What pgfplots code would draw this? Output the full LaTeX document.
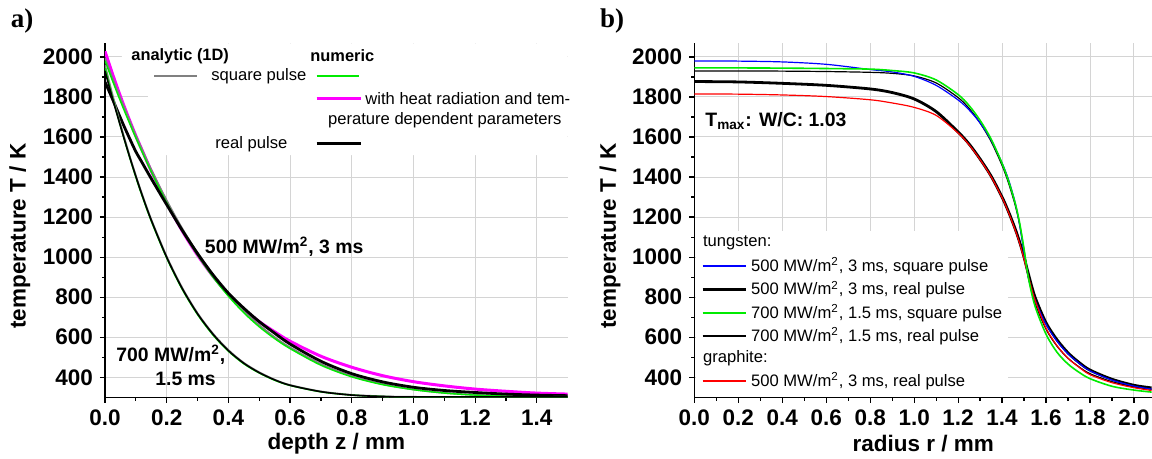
\documentclass[border=0pt]{standalone}
\usepackage{pgfplots}
\usepackage{pgfplotstable}
\pgfplotsset{compat=1.18}
\usepackage{fontspec}
\setmainfont{Liberation Sans}
\newfontfamily\panelfont{Liberation Serif}

\definecolor{cgray}{RGB}{128,128,128}
\definecolor{cgreen}{RGB}{0,235,0}
\definecolor{cmag}{RGB}{255,0,255}
\definecolor{cblue}{RGB}{0,0,255}
\definecolor{cred}{RGB}{255,0,0}
\definecolor{cgrid}{RGB}{212,212,212}

% depth profiles, 500 MW/m2, 3 ms
\pgfplotstableread{
z     ana   num   rad   real
0.00  1995  1980  2028  1875
0.02  1912  1898  1935  1805
0.04  1832  1818  1846  1732
0.06  1755  1741  1762  1660
0.08  1680  1667  1682  1592
0.10  1607  1595  1606  1527
0.12  1538  1526  1535  1473
0.15  1437  1426  1430  1392
0.20  1283  1272  1272  1262
0.25  1144  1132  1132  1135
0.30  1021  1010  1010  1018
0.35   911   900   905   912
0.40   815   805   815   820
0.45   732   722   740   745
0.50   661   652   678   678
0.55   600   593   627   620
0.60   549   543   580   566
0.70   466   460   505   480
0.80   406   402   450   418
0.90   366   363   408   377
1.00   339   338   378   350
1.10   322   321   357   334
1.20   312   311   341   324
1.30   307   306   330   316
1.40   303   303   321   311
1.50   302   302   316   308
}\tabfive

% depth profiles, 700 MW/m2, 1.5 ms
\pgfplotstableread{
z     ana   num   real
0.00  1960  1945  1930
0.02  1836  1824  1816
0.04  1720  1710  1708
0.06  1610  1601  1602
0.08  1505  1497  1500
0.10  1407  1399  1403
0.12  1315  1307  1311
0.15  1188  1180  1184
0.20  1003   995   999
0.25   848   840   844
0.30   720   713   717
0.35   618   611   615
0.40   536   530   533
0.45   472   467   470
0.50   425   421   423
0.55   388   385   387
0.60   361   359   360
0.70   329   327   328
0.80   312   311   311
0.90   305   304   304
1.00   302   302   302
1.50   302   302   302
}\tabseven

% radial profiles at the surface
\pgfplotstableread{
r     wsq5  wre5  wsq7  wre7  cre5
0.00  1980  1877  1945  1930  1815
0.20  1979  1875  1945  1930  1814
0.40  1975  1868  1944  1929  1810
0.60  1963  1858  1942  1927  1802
0.80  1937  1840  1939  1923  1786
0.90  1925  1822  1932  1918  1770
1.00  1903  1790  1920  1905  1748
1.10  1858  1727  1885  1870  1708
1.20  1785  1625  1812  1797  1620
1.25  1735  1565  1757  1743  1561
1.30  1670  1490  1683  1670  1487
1.35  1585  1405  1590  1578  1402
1.40  1470  1300  1468  1458  1297
1.43  1385  1225  1378  1368  1221
1.46  1270  1140  1268  1258  1134
1.48  1160  1075  1170  1162  1068
1.50  1020  1000  1040  1035   990
1.52   895   915   895   898   902
1.55   785   800   755   770   785
1.60   665   672   615   640   645
1.65   580   587   525   555   558
1.70   517   522   466   495   495
1.75   470   474   425   452   450
1.80   432   436   393   418   413
1.90   386   390   355   378   373
2.00   356   360   336   352   348
2.08   341   347   326   340   334
}\tabrad

\pgfplotsset{
  tempaxis/.style={
    scale only axis, height=177.2pt, anchor=south west,
    axis lines*=left, axis line style={line width=0.65pt},
    ymin=298, ymax=2068, ytick={400,600,...,2000}, minor y tick num=1,
    minor x tick num=1,
    tick align=outside, major tick length=2.5pt, minor tick length=1.5pt,
    tick style={black, line width=0.6pt},
    grid=major, major grid style={cgrid, line width=0.5pt},
    /pgf/number format/assume math mode=true,
    scaled ticks=false,
    tick label style={font=\fontsize{11.25}{13}\selectfont\bfseries},
    xticklabel style={/pgf/number format/.cd, fixed, fixed zerofill, precision=1},
    yticklabel style={/pgf/number format/1000 sep={}},
    ylabel={temperature T / K},
    every axis y label/.style={at={(axis description cs:-0.184,0.456)}, rotate=90,
      anchor=center, font=\fontsize{11.25}{13}\selectfont\bfseries},
    every axis x label/.style={at={(axis description cs:0.5,-0.13)},
      anchor=center, font=\fontsize{11.25}{13}\selectfont\bfseries},
  },
}

\begin{document}
\begin{tikzpicture}[x=1pt,y=1pt]
\useasboundingbox (0,0) rectangle (576,229.5);

% ---------- a) depth profiles
\begin{axis}[tempaxis, at={(52.5pt,30.65pt)}, width=231.35pt,
    xmin=0, xmax=1.5, xtick={0,0.2,0.4,0.6,0.8,1.0,1.2,1.4},
    xlabel={depth z / mm}]
  % legend background
  \fill[white] (axis cs:0.055,2068) -- (axis cs:1.5,2068) -- (axis cs:1.5,1510)
    -- (axis cs:0.055,1510) -- (axis cs:0.055,1760) -- (axis cs:0.14,1760)
    -- (axis cs:0.14,1840) -- (axis cs:0.055,1840) -- cycle;
  \addplot[cmag, line width=1.5pt, smooth] table[x=z, y=rad] {\tabfive};
  \addplot[cgray, line width=0.9pt, smooth] table[x=z, y=ana] {\tabfive};
  \addplot[cgreen, line width=0.7pt, smooth] table[x=z, y=num] {\tabfive};
  \addplot[black, line width=1.4pt, smooth] table[x=z, y=real] {\tabfive};
  \addplot[cgray, line width=0.9pt, smooth] table[x=z, y=ana] {\tabseven};
  \addplot[cgreen, line width=0.7pt, smooth] table[x=z, y=num] {\tabseven};
  \addplot[black, line width=0.8pt, smooth] table[x=z, y=real] {\tabseven};
\end{axis}

% ---------- b) radial profiles
\begin{axis}[tempaxis, at={(347.15pt,30.65pt)}, width=228.85pt,
    xmin=0, xmax=2.082, xtick={0,0.2,0.4,0.6,0.8,1.0,1.2,1.4,1.6,1.8,2.0},
    xlabel={radius r / mm}]
  % legend background
  \fill[white] (axis cs:0.006,302) rectangle (axis cs:1.425,1130);
  \addplot[black, line width=1.4pt, smooth] table[x=r, y=wre5] {\tabrad};
  \addplot[black, line width=0.6pt, smooth] table[x=r, y=wre7] {\tabrad};
  \addplot[cblue, line width=0.6pt, smooth] table[x=r, y=wsq5] {\tabrad};
  \addplot[cred, line width=0.6pt, smooth] table[x=r, y=cre5] {\tabrad};
  \addplot[cgreen, line width=0.8pt, smooth] table[x=r, y=wsq7] {\tabrad};
\end{axis}

% panel letters
\node[font=\panelfont\bfseries\fontsize{13.5}{16}\selectfont] at (11,219) {a)};
\node[font=\panelfont\bfseries\fontsize{13.5}{16}\selectfont] at (306,219) {b)};

% legend of a)
\begin{scope}[every node/.style={inner sep=0pt, anchor=west, font=\fontsize{8.3}{10}\selectfont}]
  \node[font=\fontsize{8.2}{10}\selectfont\bfseries] at (65.5,201.5) {analytic (1D)};
  \node[font=\fontsize{8.2}{10}\selectfont\bfseries] at (155,201.5) {numeric};
  \draw[cgray, line width=1pt] (77.15,191.5) -- (98.35,191.5);
  \node at (105.5,191.5) {square pulse};
  \draw[cgreen, line width=0.7pt] (158.35,191.5) -- (179.65,191.5);
  \draw[cmag, line width=1.5pt] (158.35,180) -- (180.35,180);
  \node at (182.5,180) {with heat radiation and tem-};
  \node at (163.85,169.15) {perature dependent parameters};
  \node at (107.5,157.5) {real pulse};
  \draw[black, line width=1.5pt] (158.35,157.5) -- (180.35,157.5);
\end{scope}

% annotations
\begin{scope}[every node/.style={inner sep=0pt, font=\fontsize{9.7}{11}\selectfont\bfseries}]
  \node at (142.1,106) {500 MW/m\textsuperscript{2}, 3 ms};
  \node[anchor=west] at (58,52) {700 MW/m\textsuperscript{2},};
  \node[anchor=west] at (77.5,39.85) {1.5 ms};
  \node[anchor=base west] at (352.5,166.15) {T\textsubscript{max}: W/C: 1.03};
\end{scope}

% legend of b)
\begin{scope}[every node/.style={inner sep=0pt, anchor=west, font=\fontsize{8.3}{10}\selectfont}]
  \node at (351.35,107.85) {tungsten:};
  \draw[cblue, line width=0.6pt] (351.35,96.5) -- (372.85,96.5);
  \node at (375.35,96.5) {500 MW/m\textsuperscript{2}, 3 ms, square pulse};
  \draw[black, line width=1.5pt] (351.35,84.75) -- (372.85,84.75);
  \node at (375.35,84.75) {500 MW/m\textsuperscript{2}, 3 ms, real pulse};
  \draw[cgreen, line width=0.8pt] (351.35,73) -- (372.85,73);
  \node at (375.35,73) {700 MW/m\textsuperscript{2}, 1.5 ms, square pulse};
  \draw[black, line width=0.6pt] (351.35,61.5) -- (372.85,61.5);
  \node at (375.35,61.5) {700 MW/m\textsuperscript{2}, 1.5 ms, real pulse};
  \node at (351.35,50.35) {graphite:};
  \draw[cred, line width=0.6pt] (351.35,39) -- (372.85,39);
  \node at (375.35,39) {500 MW/m\textsuperscript{2}, 3 ms, real pulse};
\end{scope}
\end{tikzpicture}
\end{document}
